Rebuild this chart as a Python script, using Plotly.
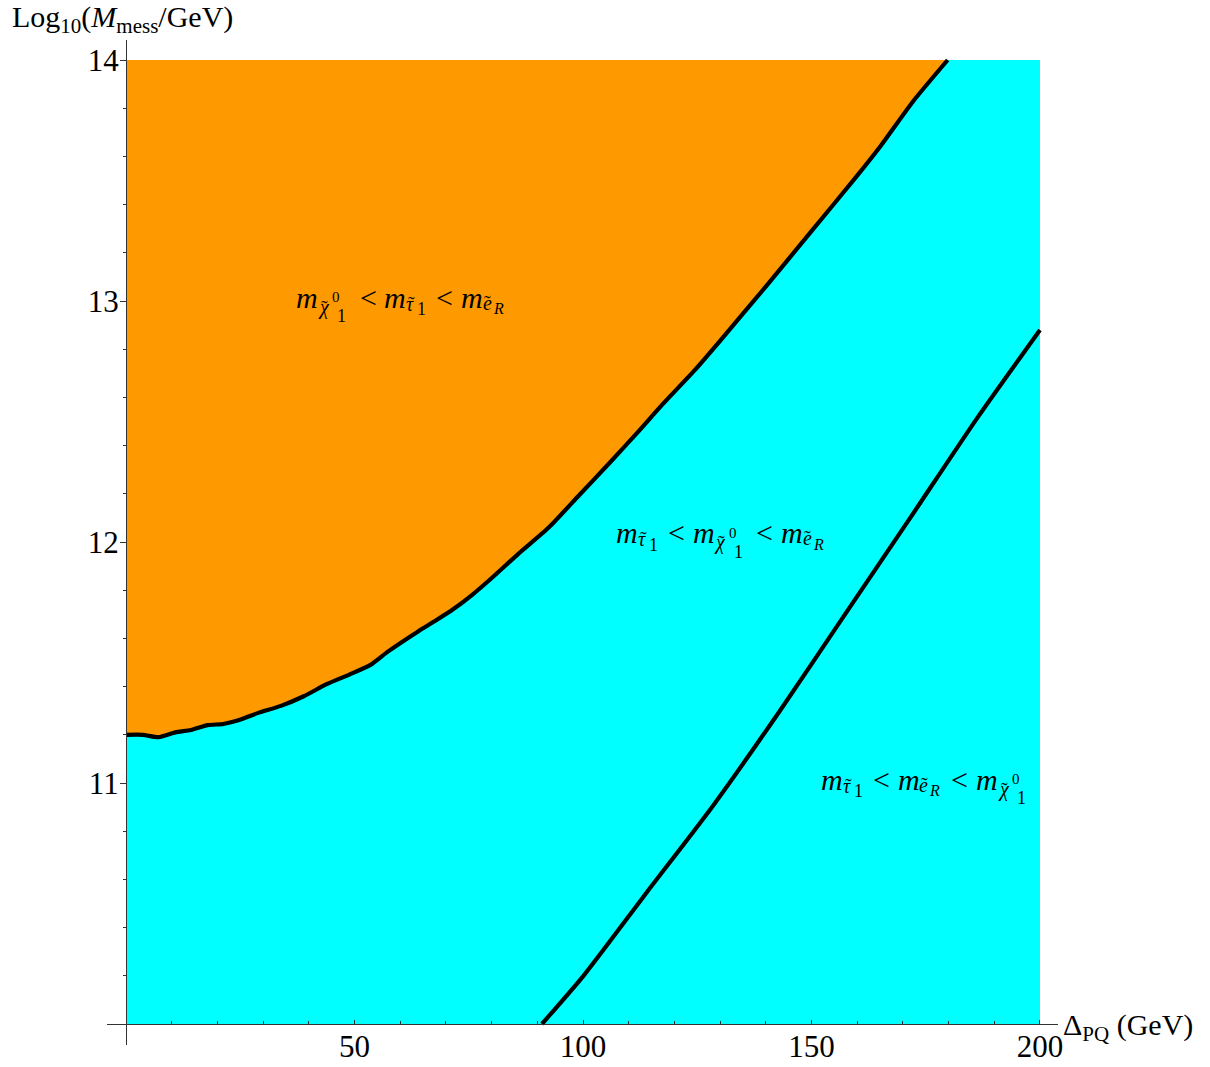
import plotly.graph_objects as go

# ---- data -------------------------------------------------------------
# boundary m_chi = m_stau (orange region above it)
upper_x = [0, 3.7, 7.1, 10.8, 14.2, 17.9, 21.3, 24.6, 28.8, 33.9, 38.9, 43.9,
           48.9, 53.5, 57.3, 64.0, 67.4, 71.5, 75.7, 79.1, 85.8, 92.5, 99.2,
           105.9, 111.7, 117.6, 124.3, 130.0, 140.0, 150.0, 160.0, 165.0,
           172.3, 179.8]
upper_y = [11.2, 11.2, 11.19, 11.21, 11.22, 11.24, 11.245, 11.26, 11.29, 11.32,
           11.36, 11.41, 11.45, 11.49, 11.545, 11.63, 11.67, 11.72, 11.78,
           11.835, 11.95, 12.06, 12.195, 12.33, 12.45, 12.575, 12.71, 12.835,
           13.06, 13.29, 13.52, 13.64, 13.83, 14.0]

# boundary m_chi = m_eR
lower_x = [91.0, 100.1, 113.9, 128.5, 143.1, 157.7, 171.6, 186.1, 200.0]
lower_y = [10.0, 10.2, 10.545, 10.907, 11.30, 11.71, 12.10, 12.51, 12.88]

# plotted region
x_lim = [0, 200]
y_lim = [10, 14]

x_tickvals = [50, 100, 150, 200]
x_ticktext = ["50", "100", "150", "200"]
y_tickvals = [11, 12, 13, 14]
y_ticktext = ["11", "12", "13", "14"]

# region labels: anchor (left edge, baseline) and token sequence
label_x = [36.98, 107.0, 151.86]
label_y = [12.974, 11.997, 10.974]
label_tokens = [
    ["m", "chi", "<", "m", "tau", "<", "m", "eR"],
    ["m", "tau", "<", "m", "chi", "<", "m", "eR"],
    ["m", "tau", "<", "m", "eR", "<", "m", "chi"],
]

# ---- style ------------------------------------------------------------
SERIF = "Liberation Serif"
ORANGE = "rgb(255,153,0)"
CYAN = "rgb(0,255,255)"
AXIS_COL = "#333333"

W, H = 1210, 1067
ML, MR, MT, MB = 107, 152, 40, 22
X_RANGE = [-4.158, 203.94]
Y_RANGE = [9.9129, 14.083]

TILDE = "\u02dc"
# glyph runs of each token: (text, size, dx, dy below baseline), advance
TOKENS = {
    "m": ([("<i>m</i>", 30, 0, 0)], 21.7),
    "<": ([("<", 30, 0, 0)], 24.5),
    "chi": ([("<i>\u03c7</i>", 20, 0, 7), (TILDE, 20, 3.5, 7),
             ("0", 15, 14.5, -5), ("1", 18, 19.5, 15)], 42.0),
    "tau": ([("<i>\u03c4</i>", 20, 0, 3), (TILDE, 20, 2.5, 3),
             ("1", 18, 11, 8)], 30.5),
    "eR": ([("<i>e</i>", 20, 0, 2), (TILDE, 20, 1.5, 2),
            ("<i>R</i>", 16, 10, 7)], 32.0),
}

fig = go.Figure()

# cyan background of the whole parameter region
fig.add_trace(go.Scatter(
    x=[x_lim[0], x_lim[1], x_lim[1], x_lim[0]],
    y=[y_lim[0], y_lim[0], y_lim[1], y_lim[1]],
    fill="toself", fillcolor=CYAN, mode="none", hoverinfo="skip",
    showlegend=False))

# orange region above the upper boundary
fig.add_trace(go.Scatter(
    x=upper_x + [x_lim[0]],
    y=upper_y + [y_lim[1]],
    fill="toself", fillcolor=ORANGE, mode="none", hoverinfo="skip",
    showlegend=False))

# boundary curves
for xs, ys in ((upper_x, upper_y), (lower_x, lower_y)):
    fig.add_trace(go.Scatter(
        x=xs, y=ys, mode="lines",
        line=dict(color="black", width=4.2, shape="spline", smoothing=0.6),
        hoverinfo="skip", showlegend=False, cliponaxis=False))

# region labels
annotations = []
for lx, ly, toks in zip(label_x, label_y, label_tokens):
    pos = 0.0
    for tok in toks:
        runs, adv = TOKENS[tok]
        for text, size, dx, dy in runs:
            annotations.append(dict(
                x=lx, y=ly, xref="x", yref="y", text=text, showarrow=False,
                xanchor="left", yanchor="middle", borderpad=0,
                xshift=pos + dx, yshift=0.3375 * size - dy,
                font=dict(family=SERIF, size=size, color="black")))
        pos += adv


def px_to_paper(px, py):
    return (px - ML) / (W - ML - MR), (H - MB - py) / (H - MT - MB)


# axis titles
tx, ty = px_to_paper(11, 18.5)
annotations.append(dict(
    x=tx, y=ty, xref="paper", yref="paper", xanchor="left", yanchor="middle",
    text="Log<sub>10</sub>(<i>M</i><sub>mess</sub>/GeV)", showarrow=False,
    borderpad=0, font=dict(family=SERIF, size=30, color="black")))
tx, ty = px_to_paper(1062, 1027)
annotations.append(dict(
    x=tx, y=ty, xref="paper", yref="paper", xanchor="left", yanchor="middle",
    text="\u0394<sub>PQ</sub> (GeV)", showarrow=False,
    borderpad=0, font=dict(family=SERIF, size=30, color="black")))

x_axis_pos = (y_lim[0] - Y_RANGE[0]) / (Y_RANGE[1] - Y_RANGE[0])
y_axis_pos = (x_lim[0] - X_RANGE[0]) / (X_RANGE[1] - X_RANGE[0])

fig.update_layout(
    width=W, height=H,
    margin=dict(l=ML, r=MR, t=MT, b=MB, autoexpand=False),
    paper_bgcolor="white", plot_bgcolor="white",
    annotations=annotations,
    xaxis=dict(
        range=X_RANGE, anchor="free", position=x_axis_pos, automargin=False,
        showgrid=False, zeroline=False,
        showline=True, linecolor=AXIS_COL, linewidth=1.3,
        tickmode="array", tickvals=x_tickvals, ticktext=x_ticktext,
        ticks="inside", ticklen=4, tickwidth=1.3, tickcolor=AXIS_COL,
        ticklabelstandoff=-5,
        minor=dict(ticks="inside", ticklen=2.5, tickwidth=1.2,
                   tickcolor=AXIS_COL, dtick=10, tick0=0, showgrid=False),
        tickfont=dict(family=SERIF, size=31, color="black"),
    ),
    yaxis=dict(
        range=Y_RANGE, anchor="free", position=y_axis_pos, automargin=False,
        showgrid=False, zeroline=False,
        showline=True, linecolor=AXIS_COL, linewidth=1.3,
        tickmode="array", tickvals=y_tickvals, ticktext=y_ticktext,
        ticks="outside", ticklen=6, tickwidth=1.3, tickcolor=AXIS_COL,
        ticklabelstandoff=-5,
        minor=dict(ticks="outside", ticklen=3, tickwidth=1.2,
                   tickcolor=AXIS_COL, dtick=0.2, tick0=10, showgrid=False),
        tickfont=dict(family=SERIF, size=31, color="black"),
    ),
)

fig.write_html("out.html")
